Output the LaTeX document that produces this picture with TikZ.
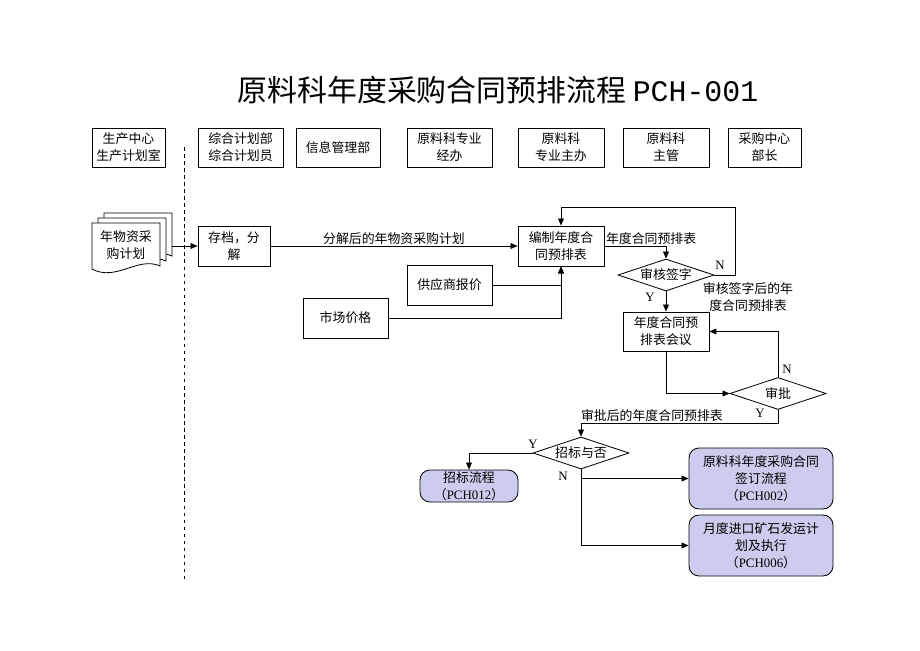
\documentclass[tikz,border=0pt]{standalone}
\usepackage{fontspec}
\setmainfont{Liberation Serif}
\setmonofont{Liberation Mono}
\newfontfamily\cjk{Noto Sans CJK SC}
\usepackage{xcolor}
\usetikzlibrary{arrows.meta, shapes.geometric}

\definecolor{subfill}{RGB}{204,204,238}
\newcommand{\zw}[1]{{\rmfamily #1}}

\begin{document}
\begin{tikzpicture}[->,>={Triangle[length=6pt,width=5pt]},x=0.03cm,y=-0.03cm,line width=0.7pt,
                    font=\cjk\fontsize{11}{14.5}\selectfont]
                \tikzset{box/.style={draw, rectangle, align=center, inner sep=1pt, minimum height=1.2cm},
                         dec/.style={draw, diamond, aspect=3, inner sep=0pt, minimum width=2.88cm, minimum height=0.96cm},
                         sub/.style={draw, rounded corners=0.3cm, fill=subfill, align=center, inner sep=1pt},
                         lbl/.style={inner sep=1pt, align=center}}

                \useasboundingbox (0,0) rectangle (920,651);

                \node[lbl, font=\cjk\fontsize{25.5}{30}\selectfont] (title) at (498,90) {原料科年度采购合同预排流程 {\ttfamily PCH-001}};

                % header row
                \node[box, minimum width=2.19cm, minimum height=1.17cm] (sczx) at (128.5,147.5) {生产中心\\生产计划室};
                \node[box, minimum width=2.55cm, minimum height=1.17cm] (zhjh) at (240.5,147.5) {综合计划部\\综合计划员};
                \node[box, minimum width=2.52cm, minimum height=1.17cm] (xxgl) at (338,147.5) {信息管理部};
                \node[box, minimum width=2.55cm, minimum height=1.17cm] (zyjb) at (449.5,147.5) {原料科专业\\经办};
                \node[box, minimum width=2.58cm, minimum height=1.17cm] (zyzb) at (561,147.5) {原料科\\专业主办};
                \node[box, minimum width=2.58cm, minimum height=1.17cm] (zg) at (666,147.5) {原料科\\主管};
                \node[box, minimum width=2.19cm, minimum height=1.17cm] (bzh) at (764.5,147.5) {采购中心\\部长};

                \draw[-, dashed] (184,147) -- (184,580);

                % stacked document
                \foreach \dx/\dy in {12/-10, 6/-5, 0/0}
                    \filldraw[-, fill=white, shift={(\dx,\dy)}] (92,223) -- (160,223) -- (160,266)
                        .. controls (138,256) and (116,282) .. (92,269) -- cycle;
                \node[lbl] (plan) at (126,245) {年物资采\\购计划};
                \coordinate (planout) at (172,246);

                % flow
                \node[box, minimum width=2.16cm] (cd) at (234,246) {存档，分\\解};
                \node[box, minimum width=2.58cm] (bz) at (561,246) {编制年度合\\同预排表};
                \node[box, minimum width=2.55cm] (gys) at (449.5,285) {供应商报价};
                \node[box, minimum width=2.55cm] (sc) at (345.5,318) {市场价格};
                \node[dec] (shqz) at (666,275) {审核签字};
                \node[box, minimum width=2.58cm, minimum height=1.17cm] (hy) at (666,331.5) {年度合同预\\排表会议};
                \node[dec] (sp) at (778,393.5) {审批};
                \node[dec] (zb) at (581,453) {招标与否};
                \node[sub, minimum width=2.94cm, minimum height=0.96cm] (zblc) at (469,486) {招标流程\\（\zw{PCH012}）};
                \node[sub, minimum width=4.32cm, minimum height=1.83cm] (qd) at (761,478.5) {原料科年度采购合同\\签订流程\\（\zw{PCH002}）};
                \node[sub, minimum width=4.32cm, minimum height=1.83cm] (ys) at (761,545.5) {月度进口矿石发运计\\划及执行\\（\zw{PCH006}）};

                \coordinate (nback) at (735,207);
                \coordinate (spdown) at (778,423);

                \draw (planout) -- (cd);
                \draw (cd) -- node[above, inner sep=1pt] {分解后的年物资采购计划} (bz);
                \draw (gys) -| (bz);
                \draw (sc) -| (bz);
                \draw (bz) -| node[pos=0, anchor=south west, inner sep=1pt] {年度合同预排表} (shqz);
                \draw (shqz.east) -| (nback) -| (bz.north);
                \draw (shqz) -- node[pos=0.3, left=6pt] {\zw{Y}} (hy);
                \draw (hy) |- (sp);
                \draw (sp) |- (hy);
                \draw (sp.south) -- (spdown) -| node[pos=0.32, above, inner sep=1pt] {审批后的年度合同预排表} (zb.north);
                \draw (zb) -| (zblc);
                \draw (zb.south) |- (qd.west);
                \draw (zb.south) |- (ys.west);

                \node[lbl] (n1) at (720,265) {\zw{N}};
                \node[lbl] (shqzh) at (748,297) {审核签字后的年\\度合同预排表};
                \node[lbl] (n2) at (787,369) {\zw{N}};
                \node[lbl] (y2) at (760,413) {\zw{Y}};
                \node[lbl] (y3) at (533,444) {\zw{Y}};
                \node[lbl] (n3) at (563,476) {\zw{N}};
            \end{tikzpicture}
\end{document}
